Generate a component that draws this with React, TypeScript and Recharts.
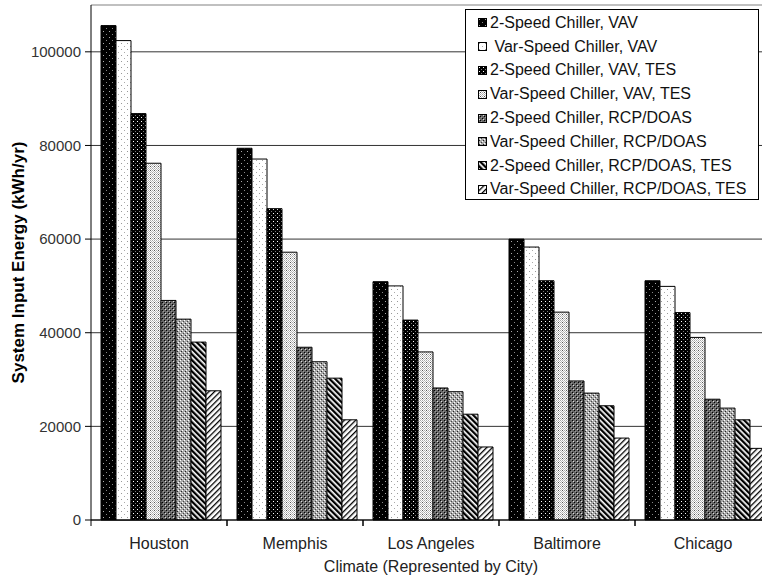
import React from "react";
import {
  Bar,
  BarChart,
  CartesianGrid,
  ReferenceLine,
  XAxis,
  YAxis,
} from "recharts";

// climates, left to right
const cities = ["Houston", "Memphis", "Los Angeles", "Baltimore", "Chicago"];

const seriesNames = [
  "2-Speed Chiller, VAV",
  "\u00a0Var-Speed Chiller, VAV",
  "2-Speed Chiller, VAV, TES",
  "Var-Speed Chiller, VAV, TES",
  "2-Speed Chiller, RCP/DOAS",
  "Var-Speed Chiller, RCP/DOAS",
  "2-Speed Chiller, RCP/DOAS, TES",
  "Var-Speed Chiller, RCP/DOAS, TES",
];

// kWh/yr, one value per city
const twoSpeedVav = [105600, 79400, 50900, 60000, 51100];
const varSpeedVav = [102400, 77100, 50000, 58300, 49900];
const twoSpeedVavTes = [86800, 66500, 42700, 51100, 44300];
const varSpeedVavTes = [76200, 57200, 35900, 44400, 39000];
const twoSpeedDoas = [46900, 36900, 28200, 29700, 25800];
const varSpeedDoas = [42900, 33800, 27400, 27100, 23900];
const twoSpeedDoasTes = [38000, 30300, 22600, 24400, 21400];
const varSpeedDoasTes = [27600, 21400, 15600, 17500, 15300];

const yTicks = [0, 20000, 40000, 60000, 80000, 100000];

const allSeries = [
  twoSpeedVav,
  varSpeedVav,
  twoSpeedVavTes,
  varSpeedVavTes,
  twoSpeedDoas,
  varSpeedDoas,
  twoSpeedDoasTes,
  varSpeedDoasTes,
];

const data = cities.map((city, i) => {
  const row: any = { city };
  allSeries.forEach((s, k) => {
    row["s" + k] = s[i];
  });
  return row;
});

const FONT = "'Liberation Sans', Arial, sans-serif";
const CHART_W = 780;
const PLOT_LEFT = 91;
const PLOT_RIGHT = 9;
const BAND = (CHART_W - PLOT_LEFT - PLOT_RIGHT) / cities.length;

function Patterns() {
  return (
    <defs>
      <pattern id="p0" width="6" height="6" patternUnits="userSpaceOnUse">
        <rect width="6" height="6" fill="#000" />
        <rect x="1" y="1" width="1" height="1" fill="#aaa" />
        <rect x="4" y="4" width="1" height="1" fill="#888" />
      </pattern>
      <pattern id="p1" width="6" height="6" patternUnits="userSpaceOnUse">
        <rect width="6" height="6" fill="#fff" />
        <rect x="1" y="1" width="1" height="1" fill="#999" />
        <rect x="4" y="4" width="1" height="1" fill="#aaa" />
      </pattern>
      <pattern id="p2" width="4" height="4" patternUnits="userSpaceOnUse">
        <rect width="4" height="4" fill="#000" />
        <rect x="1" y="1" width="1" height="1" fill="#fff" />
        <rect x="3" y="3" width="1" height="1" fill="#777" />
      </pattern>
      <pattern id="p3" width="4" height="4" patternUnits="userSpaceOnUse">
        <rect width="4" height="4" fill="#fff" />
        <rect x="0" y="0" width="1" height="1" fill="#aaa" />
        <rect x="2" y="0" width="1" height="1" fill="#aaa" />
        <rect x="1" y="1" width="1" height="1" fill="#bbb" />
        <rect x="3" y="1" width="1" height="1" fill="#bbb" />
        <rect x="0" y="2" width="1" height="1" fill="#aaa" />
        <rect x="2" y="2" width="1" height="1" fill="#555" />
        <rect x="1" y="3" width="1" height="1" fill="#bbb" />
        <rect x="3" y="3" width="1" height="1" fill="#bbb" />
      </pattern>
      <pattern id="p4" width="4" height="4" patternUnits="userSpaceOnUse">
        <rect width="4" height="4" fill="#666" />
        <rect x="0" y="0" width="1" height="1" fill="#000" />
        <rect x="2" y="2" width="1" height="1" fill="#000" />
        <rect x="1" y="1" width="1" height="1" fill="#ddd" />
        <rect x="3" y="3" width="1" height="1" fill="#999" />
      </pattern>
      <pattern id="p5" width="4" height="4" patternUnits="userSpaceOnUse">
        <rect width="4" height="4" fill="#aaa" />
        <rect x="0" y="0" width="1" height="1" fill="#fff" />
        <rect x="2" y="2" width="1" height="1" fill="#fff" />
        <rect x="1" y="3" width="1" height="1" fill="#222" />
        <rect x="3" y="1" width="1" height="1" fill="#444" />
      </pattern>
      <pattern
        id="p6"
        width="4"
        height="4"
        patternUnits="userSpaceOnUse"
        patternTransform="rotate(-45)"
      >
        <rect width="4" height="4" fill="#fff" />
        <rect x="0" y="0" width="2.3" height="4" fill="#000" />
      </pattern>
      <pattern
        id="p7"
        width="4"
        height="4"
        patternUnits="userSpaceOnUse"
        patternTransform="rotate(45)"
      >
        <rect width="4" height="4" fill="#fff" />
        <rect x="0" y="0" width="1.3" height="4" fill="#000" />
      </pattern>
    </defs>
  );
}

function CityTick(props: any) {
  const { x, y, payload } = props;
  return (
    <g>
      <line x1={x - BAND / 2} y1={y} x2={x - BAND / 2} y2={y + 6} stroke="#000" />
      <line x1={x + BAND / 2} y1={y} x2={x + BAND / 2} y2={y + 6} stroke="#000" />
      <text
        x={x}
        y={y + 29}
        textAnchor="middle"
        fontSize={16}
        fontFamily={FONT}
        fill="#222"
      >
        {payload.value}
      </text>
    </g>
  );
}

function YTitle(props: any) {
  const { viewBox } = props;
  const cx = 18;
  const cy = viewBox.y + viewBox.height / 2;
  return (
    <text
      x={cx}
      y={cy}
      transform={`rotate(-90, ${cx}, ${cy})`}
      textAnchor="middle"
      dominantBaseline="central"
      fontSize={17}
      fontWeight="bold"
      fontFamily={FONT}
      fill="#000"
    >
      System Input Energy (kWh/yr)
    </text>
  );
}

function LegendBox() {
  return (
    <div
      style={{
        position: "absolute",
        left: 465,
        top: 9,
        width: 294,
        height: 191,
        border: "1px solid #000",
        background: "#fff",
        fontFamily: FONT,
        fontSize: 16,
        color: "#111",
        paddingTop: 1,
        boxSizing: "border-box",
      }}
    >
      {seriesNames.map((name, k) => (
        <div
          key={name}
          style={{ height: 23.8, display: "flex", alignItems: "center", paddingLeft: 12 }}
        >
          <svg width={9} height={9} style={{ marginRight: 3, flex: "none" }}>
            <rect x={0.5} y={0.5} width={8} height={8} fill={`url(#p${k})`} stroke="#000" />
          </svg>
          <span style={{ whiteSpace: "pre" }}>{name}</span>
        </div>
      ))}
    </div>
  );
}

export default function App() {
  return (
    <div
      style={{
        position: "fixed",
        left: 0,
        top: 0,
        width: 762,
        height: 580,
        overflow: "hidden",
        background: "#fff",
      }}
    >
      <BarChart
        width={CHART_W}
        height={580}
        data={data}
        margin={{ top: 5, right: PLOT_RIGHT, bottom: 0, left: 0 }}
        barCategoryGap={10}
        barGap={0}
      >
        <Patterns />
        <CartesianGrid vertical={false} stroke="#333" />
        <ReferenceLine y={110000} stroke="#c0c0c0" strokeWidth={2} />
        <XAxis
          dataKey="city"
          height={60}
          axisLine={{ stroke: "#000" }}
          tickLine={false}
          tickSize={0}
          tickMargin={0}
          tick={<CityTick />}
          interval={0}
          label={{
            value: "Climate (Represented by City)",
            position: "insideBottom",
            offset: 8,
            fontSize: 16,
            fontFamily: FONT,
            fill: "#222",
          }}
        />
        <YAxis
          width={PLOT_LEFT}
          domain={[0, 110000]}
          ticks={yTicks}
          interval={0}
          axisLine={{ stroke: "#000" }}
          tickLine={{ stroke: "#000" }}
          tickSize={6}
          tickMargin={4}
          tick={{ fontSize: 15, fontFamily: FONT, fill: "#333" }}
          label={<YTitle />}
        />
        {seriesNames.map((name, k) => (
          <Bar
            key={name}
            dataKey={"s" + k}
            name={name}
            fill={`url(#p${k})`}
            stroke="#000"
            strokeWidth={1}
            isAnimationActive={false}
          />
        ))}
      </BarChart>
      <LegendBox />
    </div>
  );
}
